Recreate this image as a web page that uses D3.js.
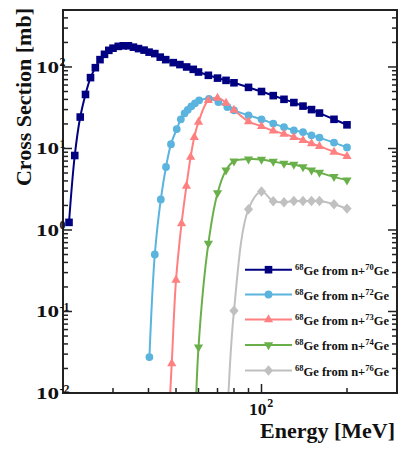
<!DOCTYPE html>
<html><head><meta charset="utf-8">
<script src="https://cdn.jsdelivr.net/npm/d3@7"></script>
<style>body{margin:0;background:#fff}svg{display:block}</style>
</head><body><svg id="c" width="407" height="459"></svg>
<script>
// ---- data ----
const e70 = [21,22,23,24,25,26,27,28,29,30,31.3,32.6,34,35.4,36.9,38.6,40.2,42.1,44,46,48.9,51.6,54.5,57.5,60,65,70,75,80,90,100,110,120,130,140,150,160,180,200];
const s70 = [1.24,8.2,24.3,46,74,98,123,143,160,170,179,182,182,175,168,161,152,146,132,123,113,107,100,93.5,86.7,79,73,68.5,64,56.2,50,44.5,40.1,36.6,33.1,30,27.2,22.8,19.5];
const e72 = [40.3,42.1,44.2,46.1,48,50.3,52,53.6,55,56.6,58.3,60.3,65.3,70.5,75.8,80,90,100,110,120,130,140,150,160,180,200];
const s72 = [0.0276,0.50,2.37,5.93,11.3,17.3,22.8,27,29.8,32.9,35.8,39,40.7,37.2,32.3,29.4,25.5,22.8,20.2,18.3,16.7,15.9,14.5,13.6,11.8,10.3];
const e73 = [46,48.3,50,52.3,54.4,56.3,58,60,65,70,75,80,90,100,110,120,130,140,150,160,180,200];
const s73 = [0.0009,0.0231,0.243,1.2,3.47,7.87,13.8,21.1,39,41.8,36.3,29.8,21.5,18.7,16.5,15.1,13.8,12.6,11.5,10.7,9.06,8.02];
const e74 = [58,60,65,70,75,80,90,100,110,120,130,140,150,160,180,200];
const s74 = [0.0015,0.0363,0.684,2.83,5.41,6.97,7.38,7.31,6.91,6.53,6.35,5.93,5.41,5.07,4.48,4.08];
const e76 = [75,80,90,100,110,120,130,140,150,160,180,200];
const s76 = [0.002,0.102,1.8,2.96,2.25,2.19,2.27,2.27,2.27,2.27,2.07,1.83];

const targets = ["70","72","73","74","76"];
const colors = ["#000080","#5ab4de","#ff8080","#6ab04a","#c0c0c0"];
const markers = ["square","circle","triangle","itriangle","diamond"];
const yMajor = [0.01,0.1,1,10,100];
const yExp = ["-2","-1","0","1","2"];
const xMinor = [30,40,50,60,70,80,90,200];
const xMajor = [100];

const series = [[e70,s70],[e72,s72],[e73,s73],[e74,s74],[e76,s76]];

// ---- layout ----
const L=63,R=397,T=10,B=393;
const x = d3.scaleLog().domain([20,300]).range([L,R]);
const y = d3.scaleLog().domain([0.01,500]).range([B,T]);
const svg = d3.select("#c");
const FONT = "'Liberation Serif','Times New Roman',serif";

svg.append("defs").append("clipPath").attr("id","clip")
  .append("rect").attr("x",L).attr("y",T).attr("width",R-L).attr("height",B-T);

function markerPath(type){
  switch(type){
    case "square": return "M-3.8,-3.8H3.8V3.8H-3.8Z";
    case "circle": return "M-3.9,0A3.9,3.9 0 1,0 3.9,0A3.9,3.9 0 1,0 -3.9,0Z";
    case "triangle": return "M0,-5.2L4.6,2.8H-4.6Z";
    case "itriangle": return "M0,5.2L4.6,-2.8H-4.6Z";
    case "diamond": return "M0,-5.2L4.6,0L0,5.2L-4.6,0Z";
  }
}

// ---- lines & markers ----
const line = d3.line().x(d=>x(d[0])).y(d=>y(d[1])).curve(d3.curveCatmullRom.alpha(0.5));
const g = svg.append("g").attr("clip-path","url(#clip)");
series.forEach((s,i)=>{
  const pts = s[0].map((e,j)=>[e,s[1][j]]);
  g.append("path").datum(pts).attr("d",line).attr("fill","none")
    .attr("stroke",colors[i]).attr("stroke-width",2);
});
series.forEach((s,i)=>{
  const pts = s[0].map((e,j)=>[e,s[1][j]]).filter(d=>d[1]>=0.01);
  g.selectAll(null).data(pts).enter().append("path")
    .attr("d",markerPath(markers[i]))
    .attr("transform",d=>`translate(${x(d[0])},${y(d[1])})`)
    .attr("fill",colors[i]);
});

// ---- axes frame ----
const ax = svg.append("g").attr("stroke","#222").attr("fill","none");
ax.append("rect").attr("x",L).attr("y",T).attr("width",R-L).attr("height",B-T).attr("stroke-width",2);

const yMinor=[];
for(let d=-2; d<=2; d++) for(let k=2;k<=9;k++){const v=k*Math.pow(10,d); if(v<=500) yMinor.push(v);}
yMinor.forEach(v=>{
  ax.append("line").attr("x1",L).attr("x2",L+5).attr("y1",y(v)).attr("y2",y(v)).attr("stroke-width",1.5);
  ax.append("line").attr("x1",R).attr("x2",R-5).attr("y1",y(v)).attr("y2",y(v)).attr("stroke-width",1.5);
});
yMajor.forEach(v=>{
  ax.append("line").attr("x1",L).attr("x2",L+9).attr("y1",y(v)).attr("y2",y(v)).attr("stroke-width",1.5);
  ax.append("line").attr("x1",R).attr("x2",R-9).attr("y1",y(v)).attr("y2",y(v)).attr("stroke-width",1.5);
});
xMinor.forEach(v=>{
  ax.append("line").attr("x1",x(v)).attr("x2",x(v)).attr("y1",B).attr("y2",B-5).attr("stroke-width",1.5);
});
xMajor.forEach(v=>{
  ax.append("line").attr("x1",x(v)).attr("x2",x(v)).attr("y1",B).attr("y2",B-9).attr("stroke-width",1.5);
});

// y tick labels: "10" wide, superscript exponent
yMajor.forEach((v,i)=>{
  const yy = y(v);
  svg.append("text").attr("transform",`translate(59,${yy+6}) scale(1.4,1)`).attr("text-anchor","end")
    .attr("font-family",FONT).attr("font-weight","bold").attr("font-size",16.5).attr("fill","#111")
    .text("10");
  svg.append("text").attr("x",59.5).attr("y",yy-0.5)
    .attr("font-family",FONT).attr("font-weight","bold").attr("font-size",12).attr("fill","#111")
    .text(yExp[i]);
});
xMajor.forEach(v=>{
  const xx = x(v);
  svg.append("text").attr("x",xx+5).attr("y",415).attr("text-anchor","end")
    .attr("font-family",FONT).attr("font-weight","bold").attr("font-size",17.5).attr("fill","#111")
    .text("10");
  svg.append("text").attr("x",xx+5.8).attr("y",407)
    .attr("font-family",FONT).attr("font-weight","bold").attr("font-size",12).attr("fill","#111")
    .text("2");
});

// axis titles
svg.append("text").attr("transform","translate(31,8) rotate(-90)").attr("text-anchor","end")
  .attr("font-family",FONT).attr("font-weight","bold").attr("font-size",22).attr("fill","#111")
  .text("Cross Section [mb]");
svg.append("text").attr("x",395).attr("y",438).attr("text-anchor","end")
  .attr("font-family",FONT).attr("font-weight","bold").attr("font-size",22).attr("fill","#111")
  .text("Energy [MeV]");

// legend
const legY = [269.7,294.5,319.5,345,370.5];
targets.forEach((tg,i)=>{
  const gy = legY[i];
  svg.append("line").attr("x1",245).attr("x2",292).attr("y1",gy).attr("y2",gy)
    .attr("stroke",colors[i]).attr("stroke-width",2);
  svg.append("path").attr("d",markerPath(markers[i])).attr("transform",`translate(268.5,${gy})`).attr("fill",colors[i]);
  const t = svg.append("text").attr("x",295).attr("y",gy+5).attr("font-family",FONT)
    .attr("font-weight","bold").attr("font-size",12.5).attr("fill","#111");
  t.append("tspan").attr("font-size",8.5).attr("dy",-5).text("68");
  t.append("tspan").attr("dy",5).text("Ge from n+");
  t.append("tspan").attr("font-size",8.5).attr("dy",-5).text(tg);
  t.append("tspan").attr("dy",5).text("Ge");
});
</script></body></html>
